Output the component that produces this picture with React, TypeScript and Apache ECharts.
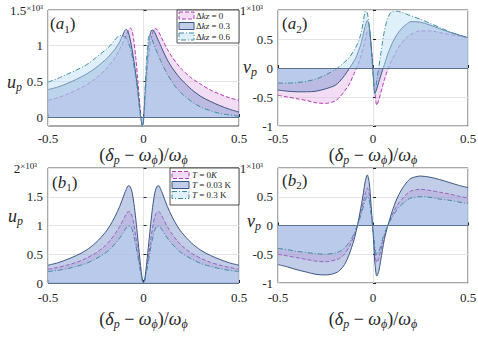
import React, { useEffect, useRef } from 'react';
import * as echarts from 'echarts';

// detuning grid (δp − ωφ)/ωφ
const X = [-0.5, -0.45, -0.4, -0.35, -0.3, -0.25, -0.2, -0.175, -0.15, -0.125, -0.1, -0.09, -0.08, -0.07, -0.06, -0.05, -0.04, -0.03, -0.02, -0.01, -0.005,
  0,
  0.005, 0.01, 0.02, 0.03, 0.04, 0.05, 0.06, 0.07, 0.08, 0.09, 0.1, 0.125, 0.15, 0.175, 0.2, 0.25, 0.3, 0.35, 0.4, 0.45, 0.5];

// (a1) u_p  (×10^3)
const a1Dk0 = [0.235, 0.27, 0.32, 0.38, 0.45, 0.54, 0.66, 0.74, 0.83, 0.95, 1.09, 1.15, 1.21, 1.25, 1.21, 1.06, 0.82, 0.52, 0.2, -0.06, -0.12,
  -0.06,
  0.1, 0.3, 0.65, 0.92, 1.1, 1.2, 1.24, 1.23, 1.19, 1.14, 1.08, 0.95, 0.84, 0.75, 0.67, 0.55, 0.46, 0.38, 0.32, 0.27, 0.235];
const a1Dk03 = [0.385, 0.42, 0.47, 0.53, 0.6, 0.69, 0.8, 0.87, 0.95, 1.05, 1.2, 1.23, 1.19, 1.09, 0.95, 0.78, 0.59, 0.38, 0.12, -0.08, -0.12,
  -0.05,
  0.15, 0.4, 0.8, 1.08, 1.21, 1.22, 1.18, 1.12, 1.06, 1.0, 0.94, 0.8, 0.69, 0.6, 0.52, 0.39, 0.29, 0.22, 0.16, 0.11, 0.07];
const a1Dk06 = [0.49, 0.54, 0.6, 0.66, 0.73, 0.83, 0.94, 1.0, 1.08, 1.14, 1.13, 1.1, 1.05, 0.97, 0.86, 0.72, 0.55, 0.35, 0.1, -0.08, -0.13,
  -0.05,
  0.2, 0.5, 0.95, 1.14, 1.12, 1.05, 0.98, 0.91, 0.85, 0.79, 0.73, 0.6, 0.49, 0.4, 0.33, 0.22, 0.14, 0.09, 0.05, 0.03, 0.01];

// (a2) v_p
const a2Dk0 = [-0.47, -0.5, -0.53, -0.56, -0.6, -0.61, -0.57, -0.5, -0.4, -0.28, -0.1, -0.03, 0.05, 0.14, 0.25, 0.37, 0.5, 0.63, 0.66, 0.38, 0.2,
  0,
  -0.22, -0.42, -0.64, -0.56, -0.44, -0.32, -0.2, -0.1, -0.01, 0.07, 0.14, 0.3, 0.43, 0.52, 0.58, 0.64, 0.64, 0.61, 0.58, 0.55, 0.52];
const a2Dk03 = [-0.38, -0.4, -0.41, -0.41, -0.4, -0.36, -0.3, -0.23, -0.13, -0.01, 0.12, 0.18, 0.26, 0.35, 0.46, 0.6, 0.74, 0.82, 0.72, 0.38, 0.18,
  -0.05,
  -0.3, -0.44, -0.36, -0.25, -0.14, -0.04, 0.06, 0.16, 0.26, 0.34, 0.42, 0.57, 0.68, 0.75, 0.8, 0.79, 0.74, 0.68, 0.62, 0.57, 0.52];
const a2Dk06 = [-0.26, -0.26, -0.25, -0.23, -0.19, -0.12, -0.03, 0.03, 0.1, 0.18, 0.3, 0.36, 0.43, 0.52, 0.64, 0.82, 0.98, 0.95, 0.72, 0.35, 0.14,
  -0.08,
  -0.35, -0.44, -0.2, 0, 0.22, 0.45, 0.64, 0.78, 0.88, 0.94, 0.97, 0.98, 0.96, 0.93, 0.9, 0.84, 0.77, 0.7, 0.63, 0.57, 0.53];

// (b1) u_p
const b1T0 = [0.24, 0.27, 0.31, 0.36, 0.43, 0.52, 0.65, 0.74, 0.85, 0.98, 1.14, 1.2, 1.24, 1.23, 1.16, 1.01, 0.8, 0.57, 0.33, 0.11, 0.03,
  0,
  0.03, 0.11, 0.33, 0.57, 0.8, 1.01, 1.16, 1.23, 1.24, 1.2, 1.14, 0.98, 0.85, 0.74, 0.65, 0.52, 0.43, 0.36, 0.31, 0.27, 0.24];
const b1T003 = [0.31, 0.35, 0.41, 0.48, 0.57, 0.7, 0.88, 1.0, 1.15, 1.33, 1.55, 1.63, 1.69, 1.68, 1.58, 1.38, 1.1, 0.78, 0.45, 0.15, 0.05,
  0,
  0.05, 0.15, 0.45, 0.78, 1.1, 1.38, 1.58, 1.68, 1.69, 1.63, 1.55, 1.33, 1.15, 1.0, 0.88, 0.7, 0.57, 0.48, 0.41, 0.35, 0.31];
const b1T03 = [0.2, 0.22, 0.25, 0.29, 0.34, 0.42, 0.52, 0.59, 0.68, 0.78, 0.91, 0.96, 0.99, 0.99, 0.93, 0.81, 0.65, 0.46, 0.27, 0.09, 0.02,
  0,
  0.02, 0.09, 0.27, 0.46, 0.65, 0.81, 0.93, 0.99, 0.99, 0.96, 0.91, 0.78, 0.68, 0.59, 0.52, 0.42, 0.34, 0.29, 0.25, 0.22, 0.2];

// (b2) v_p
const b2T0 = [-0.5, -0.53, -0.56, -0.59, -0.62, -0.63, -0.6, -0.57, -0.5, -0.37, -0.18, -0.08, 0.02, 0.15, 0.28, 0.43, 0.57, 0.65, 0.55, 0.26, 0.09,
  -0.07,
  -0.28, -0.48, -0.64, -0.58, -0.45, -0.31, -0.18, -0.07, 0.01, 0.09, 0.18, 0.34, 0.45, 0.54, 0.6, 0.63, 0.61, 0.58, 0.55, 0.51, 0.48];
const b2T003 = [-0.68, -0.72, -0.77, -0.81, -0.85, -0.86, -0.83, -0.78, -0.68, -0.5, -0.25, -0.12, 0.03, 0.2, 0.38, 0.58, 0.78, 0.88, 0.75, 0.35, 0.12,
  -0.1,
  -0.38, -0.65, -0.88, -0.8, -0.62, -0.42, -0.24, -0.1, 0.02, 0.13, 0.24, 0.46, 0.62, 0.74, 0.82, 0.86, 0.84, 0.8, 0.75, 0.7, 0.66];
const b2T03 = [-0.4, -0.42, -0.45, -0.47, -0.49, -0.5, -0.48, -0.45, -0.39, -0.29, -0.15, -0.06, 0.02, 0.12, 0.22, 0.34, 0.45, 0.51, 0.44, 0.2, 0.07,
  -0.06,
  -0.22, -0.38, -0.51, -0.46, -0.36, -0.24, -0.14, -0.06, 0.01, 0.08, 0.14, 0.27, 0.36, 0.43, 0.48, 0.5, 0.49, 0.46, 0.44, 0.41, 0.38];

const xTicks = [-0.5, 0, 0.5];
const a1Ticks = [0, 0.5, 1, 1.5];
const a2Ticks = [-1, -0.5, 0, 0.5, 1];
const b1Ticks = [0, 0.5, 1, 1.5, 2];
const b2Ticks = [-1, -0.5, 0, 0.5, 1];

const dkzNames = ['Δkz = 0', 'Δkz = 0.3', 'Δkz = 0.6'];
const tNames = ['T = 0K', 'T = 0.03 K', 'T = 0.3 K'];

const serif = 'Liberation Serif, DejaVu Serif, serif';
const ink = '#262626';
const LINE = ['#b43cb8', '#3c5785', '#3e8d9f'];
const FILL = ['rgba(224,170,228,0.4)', 'rgba(120,145,205,0.45)', 'rgba(185,222,245,0.45)'];
const SWATCH = ['#f3ddf4', '#c2cee8', '#e0f0fa'];
const DASH: any[] = [[4, 2], 'solid', [5, 2, 1, 2]];

const fmt = (v: number) => String(v);

function makeSeries(name: string, ys: number[], idx: number, k: number, base: boolean) {
  const s: any = {
    name,
    type: 'line',
    xAxisIndex: idx,
    yAxisIndex: idx,
    data: X.map((x, i) => [x, ys[i]]),
    showSymbol: false,
    symbol: 'none',
    smooth: 0.3,
    lineStyle: { color: LINE[k], width: 1, type: DASH[k] },
    itemStyle: { color: LINE[k] },
    areaStyle: { color: FILL[k], opacity: 1 },
    z: 2 + k,
  };
  if (base) {
    s.markLine = {
      silent: true,
      symbol: ['none', 'none'],
      label: { show: false },
      lineStyle: { color: '#5b7399', width: 1, type: 'solid' },
      data: [{ yAxis: 0 }],
    };
  }
  return s;
}

const numRich = { fontFamily: serif, fontSize: 13, color: ink, lineHeight: 13 };

function makeY(idx: number, min: number, max: number, ticks: number[], pad: number) {
  return {
    type: 'value',
    gridIndex: idx,
    min,
    max,
    splitNumber: 3,
    axisLine: { show: false },
    axisTick: { show: true, inside: true, length: 3, lineStyle: { color: ink }, customValues: ticks },
    axisLabel: {
      customValues: ticks,
      showMinLabel: true,
      showMaxLabel: true,
      margin: 5,
      fontFamily: serif,
      fontSize: 13,
      color: ink,
      formatter: (v: number) => {
        if (ticks.indexOf(v) < 0) return '';
        if (v === max) return '{n|' + fmt(v) + '}{e|×10³}';
        return '{n|' + fmt(v) + '}';
      },
      rich: {
        n: numRich,
        e: { fontFamily: serif, fontSize: 9, color: ink, verticalAlign: 'top', lineHeight: 9, padding: [0, pad, 0, 0] },
      },
    },
    splitLine: { show: true, lineStyle: { color: '#e4e4e4', width: 1 } },
  };
}

const xNameRich = {
  n: { fontFamily: serif, fontSize: 18, color: ink, lineHeight: 22 },
  i: { fontFamily: serif, fontSize: 18, fontStyle: 'italic', color: ink, lineHeight: 22 },
  s: { fontFamily: serif, fontSize: 12, fontStyle: 'italic', color: ink, lineHeight: 12, verticalAlign: 'bottom' },
};
const xName = '{n|(}{i|δ}{s|p}{n| − }{i|ω}{s|ϕ}{n|)/}{i|ω}{s|ϕ}';

function makeX(idx: number, gap: number, margin: number) {
  return {
    type: 'value',
    gridIndex: idx,
    min: -0.5,
    max: 0.5,
    interval: 0.5,
    axisLine: { show: false },
    axisTick: { show: true, inside: true, length: 3, lineStyle: { color: ink } },
    axisLabel: {
      showMinLabel: true,
      showMaxLabel: true,
      margin,
      fontFamily: serif,
      fontSize: 13,
      color: ink,
      formatter: (v: number) => (xTicks.indexOf(v) >= 0 ? '{n|' + fmt(v) + '}' : ''),
      rich: { n: numRich },
    },
    splitLine: { show: true, lineStyle: { color: '#e4e4e4', width: 1 } },
    name: xName,
    nameLocation: 'middle',
    nameGap: gap,
    nameTextStyle: { fontFamily: serif, fontSize: 18, color: ink, rich: xNameRich },
  };
}

function richText(x: number, y: number, text: string, size: number, subSize: number) {
  return {
    type: 'text',
    x,
    y,
    z: 100,
    style: {
      text,
      fontFamily: serif,
      fontSize: size,
      fill: ink,
      verticalAlign: 'middle',
      align: 'left',
      rich: {
        p: { fontFamily: serif, fontSize: size, fill: ink, color: ink, lineHeight: size + 4 },
        i: { fontFamily: serif, fontSize: size, fontStyle: 'italic', fill: ink, color: ink, lineHeight: size + 4 },
        s: { fontFamily: serif, fontSize: subSize, fontStyle: 'italic', fill: ink, color: ink, lineHeight: subSize, verticalAlign: 'bottom' },
        r: { fontFamily: serif, fontSize: subSize, fill: ink, color: ink, lineHeight: subSize, verticalAlign: 'bottom' },
      },
    },
  };
}

function legendText(name: string) {
  if (name.startsWith('Δkz')) {
    return '{n|Δ}{i|kz}{n|' + name.slice(3) + '}';
  }
  if (name === 'T = 0K') return '{i|T}{n| = 0}{i|K}';
  return '{i|T}{n|' + name.slice(1) + '}';
}

function makeLegend(bx: number, by: number, bw: number, bh: number, names: string[], rowYs: number[], swX: number, swW: number, txX: number) {
  const els: any[] = [
    { type: 'rect', z: 100, shape: { x: bx, y: by, width: bw, height: bh }, style: { fill: '#ffffff', stroke: ink, lineWidth: 0.8 } },
  ];
  names.forEach((nm, k) => {
    els.push({
      type: 'rect',
      z: 101,
      shape: { x: swX, y: rowYs[k] - 3.5, width: swW, height: 7 },
      style: { fill: SWATCH[k], stroke: LINE[k], lineWidth: 1, lineDash: DASH[k] === 'solid' ? null : DASH[k] },
    });
    els.push({
      type: 'text',
      z: 101,
      x: txX,
      y: rowYs[k],
      style: {
        text: legendText(nm),
        fontFamily: serif,
        fontSize: 9,
        fill: ink,
        verticalAlign: 'middle',
        align: 'left',
        rich: {
          n: { fontFamily: serif, fontSize: 9, fill: ink, color: ink },
          i: { fontFamily: serif, fontSize: 9, fontStyle: 'italic', fill: ink, color: ink },
        },
      },
    });
  });
  return els;
}

export default function App() {
  const ref = useRef<HTMLDivElement>(null);
  useEffect(() => {
    if (!ref.current) return;
    const chart = echarts.init(ref.current, null, { renderer: 'svg' });
    const gridBase = { show: true, borderColor: ink, borderWidth: 0.8, backgroundColor: '#ffffff', containLabel: false, outerBoundsMode: 'none' };
    const option: any = {
      animation: false,
      backgroundColor: '#ffffff',
      textStyle: { fontFamily: serif },
      grid: [
        { ...gridBase, left: 48, top: 10, width: 191, height: 116 },
        { ...gridBase, left: 278, top: 10, width: 190, height: 116 },
        { ...gridBase, left: 48, top: 168, width: 191, height: 115 },
        { ...gridBase, left: 278, top: 168, width: 190, height: 115 },
      ],
      xAxis: [makeX(0, 15, 6), makeX(1, 15, 6), makeX(2, 25, 8), makeX(3, 25, 8)],
      yAxis: [
        makeY(0, -0.125, 1.5, a1Ticks, 0),
        makeY(1, -1, 1, a2Ticks, 10),
        makeY(2, 0, 2, b1Ticks, 6),
        makeY(3, -1, 1, b2Ticks, 10),
      ],
      series: [
        makeSeries(dkzNames[0], a1Dk0, 0, 0, false),
        makeSeries(dkzNames[1], a1Dk03, 0, 1, true),
        makeSeries(dkzNames[2], a1Dk06, 0, 2, false),
        makeSeries(dkzNames[0] + ' ', a2Dk0, 1, 0, false),
        makeSeries(dkzNames[1] + ' ', a2Dk03, 1, 1, true),
        makeSeries(dkzNames[2] + ' ', a2Dk06, 1, 2, false),
        makeSeries(tNames[0], b1T0, 2, 0, false),
        makeSeries(tNames[1], b1T003, 2, 1, true),
        makeSeries(tNames[2], b1T03, 2, 2, false),
        makeSeries(tNames[0] + ' ', b2T0, 3, 0, false),
        makeSeries(tNames[1] + ' ', b2T003, 3, 1, true),
        makeSeries(tNames[2] + ' ', b2T03, 3, 2, false),
      ],
      graphic: [
        richText(50, 23.5, '{p|(}{i|a}{r|1}{p|)}', 17, 11),
        richText(282, 23.5, '{p|(}{i|a}{r|2}{p|)}', 17, 11),
        richText(52, 182, '{p|(}{i|b}{r|1}{p|)}', 17, 11),
        richText(282, 180, '{p|(}{i|b}{r|2}{p|)}', 17, 11),
        richText(7, 82, '{i|u}{s|p}', 18, 12),
        richText(243, 67, '{i|v}{s|p}', 18, 12),
        richText(8, 216, '{i|u}{s|p}', 18, 12),
        richText(247, 221, '{i|v}{s|p}', 18, 12),
        ...makeLegend(177, 10, 62, 33, dkzNames, [15.5, 26, 36.5], 179, 15, 196),
        ...makeLegend(170, 168, 69, 37, tNames, [175, 185, 195], 172, 17, 192),
      ],
    };
    chart.setOption(option);
    return () => chart.dispose();
  }, []);
  return (
    <div
      ref={ref}
      style={{ position: 'fixed', left: 0, top: 0, width: 478, height: 340, background: '#ffffff' }}
    />
  );
}
